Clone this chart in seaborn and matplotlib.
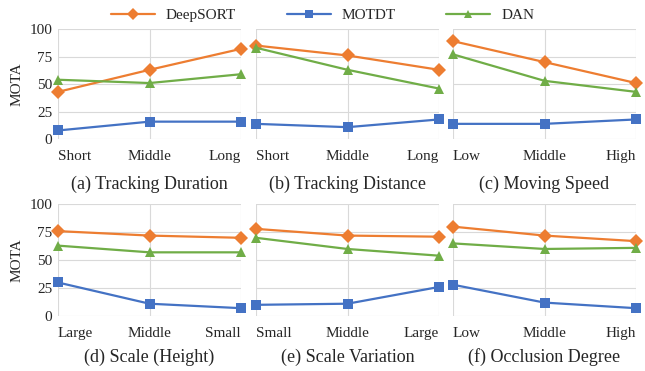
import matplotlib
matplotlib.use("Agg")
import matplotlib.pyplot as plt
import seaborn as sns
import pandas as pd

methods = ["DeepSORT", "MOTDT", "DAN"]
colors = {"DeepSORT": "#ED7D31", "MOTDT": "#4472C4", "DAN": "#70AD47"}
markers = {"DeepSORT": "D", "MOTDT": "s", "DAN": "^"}

titles = ["(a) Tracking Duration", "(b) Tracking Distance", "(c) Moving Speed",
          "(d) Scale (Height)", "(e) Scale Variation", "(f) Occlusion Degree"]
categories = [["Short", "Middle", "Long"], ["Short", "Middle", "Long"], ["Low", "Middle", "High"],
              ["Large", "Middle", "Small"], ["Small", "Middle", "Large"], ["Low", "Middle", "High"]]

deepsort = [[43, 63, 82], [85, 76, 63], [89, 70, 51],
            [76, 72, 70], [78, 72, 71], [80, 72, 67]]
motdt = [[8, 16, 16], [14, 11, 18], [14, 14, 18],
         [30, 11, 7], [10, 11, 26], [28, 12, 7]]
dan = [[54, 51, 59], [83, 63, 46], [77, 53, 43],
       [63, 57, 57], [70, 60, 54], [65, 60, 61]]
yticks = [0, 25, 50, 75, 100]

sns.set_theme(style="white")
plt.rcParams["font.family"] = ["Liberation Serif", "DejaVu Serif"]

fig = plt.figure(figsize=(6.45, 3.71), dpi=100)
W, H = 645, 371
lefts = [58, 256, 453]
width = 183
rows = [(29, 139.3), (204.3, 316)]
label_pads = [8.5, 6]

for i in range(6):
    r, c = divmod(i, 3)
    top, bot = rows[r]
    ax = fig.add_axes([lefts[c] / W, 1 - bot / H, width / W, (bot - top) / H])
    cats = categories[i]
    recs = []
    for m, vals in zip(methods, [deepsort[i], motdt[i], dan[i]]):
        for cat, v in zip(cats, vals):
            recs.append({"cat": cat, "MOTA": v, "method": m})
    df = pd.DataFrame(recs)
    sns.lineplot(data=df, x="cat", y="MOTA", hue="method", style="method",
                 hue_order=methods, style_order=methods, palette=colors,
                 markers=markers, dashes=False, markersize=7.5, linewidth=1.6,
                 markeredgewidth=0, ax=ax, legend=(i == 0), sort=False, clip_on=False)
    ax.set_xlim(0, 2)
    ax.set_ylim(0, 100)
    ax.set_yticks(yticks)
    ax.grid(True, color="#D9D9D9", linewidth=0.8)
    ax.set_axisbelow(True)
    for s in ax.spines.values():
        s.set_visible(False)
    ax.tick_params(axis="both", length=0, labelsize=11)
    ax.tick_params(axis="x", pad=8)
    ax.tick_params(axis="y", pad=4)
    ax.set_xticks([0, 1, 2])
    ax.set_xticklabels(cats)
    for lab, ha in zip(ax.get_xticklabels(), ["left", "center", "right"]):
        lab.set_horizontalalignment(ha)
    ax.set_xlabel(titles[i], fontsize=13, labelpad=label_pads[r])
    if c == 0:
        ax.set_ylabel("MOTA", fontsize=11, labelpad=4)
    else:
        ax.set_ylabel("")
        ax.set_yticklabels([])
    if i == 0:
        handles, labels = ax.get_legend_handles_labels()
        ax.get_legend().remove()

fig.legend(handles, labels, loc="upper center", bbox_to_anchor=(0.5, 1.015), ncol=3,
           frameon=False, fontsize=11, handlelength=2.9, columnspacing=3.3, handletextpad=0.7,
           markerscale=0.8)
fig.savefig("out.png", dpi=100)
